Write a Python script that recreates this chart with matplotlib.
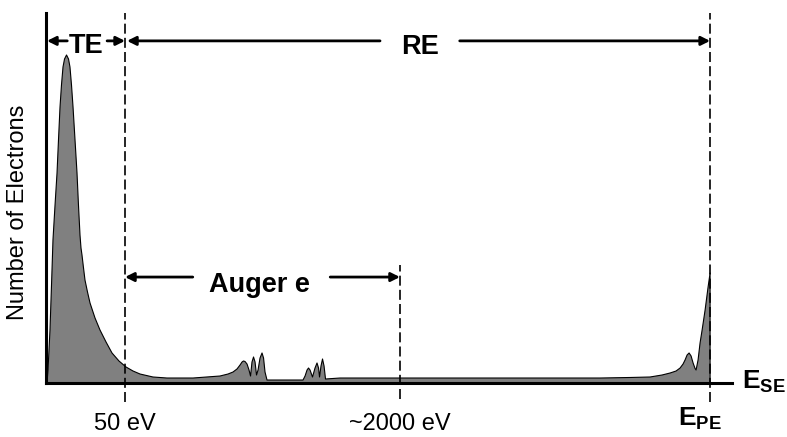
import matplotlib.pyplot as plt

plt.rcParams['font.family'] = ['Liberation Sans', 'DejaVu Sans']
plt.rcParams['mathtext.fontset'] = 'custom'
plt.rcParams['mathtext.rm'] = 'Liberation Sans'
plt.rcParams['mathtext.bf'] = 'Liberation Sans:bold'

# energy in arbitrary units (E_PE = 100), counts relative to the TE peak
# true secondary peak and its low-energy tail
te_energy = [0.15, 0.30, 0.60, 0.83, 1.05, 1.36, 1.66, 1.88, 2.11, 2.33,
             2.56, 2.79, 3.09, 3.39, 3.61, 3.84, 4.07, 4.37, 4.67, 4.89,
             5.12, 5.27, 5.42, 5.65, 5.87, 6.25, 6.63, 7.38, 8.13, 9.04,
             9.94, 10.99, 12.05, 13.10, 14.16, 16.11, 18.22, 22.14]
te_counts = [0.0, 3.96, 16.16, 29.88, 43.60, 54.27, 64.02, 74.09, 84.15, 90.85,
             96.34, 98.78, 100.0, 98.78, 96.34, 90.85, 84.15, 74.09, 64.02, 54.27,
             45.12, 41.16, 39.02, 35.06, 31.40, 27.74, 24.39, 19.82, 16.16, 12.50,
             9.15, 6.71, 4.88, 3.66, 2.74, 1.83, 1.52, 1.52]

# two groups of Auger lines
auger_energy = [26.20, 27.41, 28.16, 28.76, 29.22, 29.52, 29.74, 29.97, 30.27,
                30.57, 30.80, 31.02, 31.25, 31.48, 31.70, 31.93, 32.23, 32.53,
                32.76, 32.98, 33.28, 38.70, 39.01, 39.31, 39.53, 39.76, 40.13,
                40.51, 40.81, 41.04, 41.19, 41.41, 41.64, 41.87, 42.09]
auger_counts = [2.13, 2.74, 3.35, 4.27, 5.49, 6.40, 6.71, 6.55, 5.79,
                3.96, 2.13, 6.40, 7.93, 6.40, 2.44, 3.96, 7.62, 9.15,
                7.62, 3.35, 0.91, 0.91, 2.13, 3.96, 4.57, 3.96, 1.83,
                4.57, 6.10, 4.57, 1.83, 5.18, 7.32, 5.18, 1.22]

# flat background of backscattered electrons
bg_energy = [44.28, 53.31, 83.43]
bg_counts = [1.52, 1.52, 1.52]

# loss peak and elastic peak at E_PE
pe_energy = [87.95, 90.96, 92.77, 93.98, 94.88, 95.48, 95.93, 96.23, 96.54,
             96.84, 97.14, 97.44, 97.74, 97.89, 98.19, 98.49, 98.80, 99.25,
             99.70, 100.0, 100.0]
pe_counts = [1.68, 1.83, 2.44, 3.05, 3.66, 4.57, 5.79, 7.01, 8.54,
             9.15, 8.23, 6.10, 4.42, 3.96, 7.01, 12.20, 16.16, 22.26,
             29.27, 33.54, 0.0]

energy = te_energy + auger_energy + bg_energy + pe_energy
counts = te_counts + auger_counts + bg_counts + pe_counts

# boundaries: 50 eV, ~2000 eV, E_PE
e_50 = 11.9
e_2000 = 53.3
e_pe = 100.0

fig = plt.figure(figsize=(7.87, 4.37), dpi=100)
ax = fig.add_axes([46 / 787, 54 / 437, 686 / 787, 370 / 437])
ax.set_xlim(0, 103.3)
ax.set_ylim(0, 112.8)

ax.fill_between(energy, counts, 0, facecolor='#808080', edgecolor='none')
ax.plot(energy, counts, color='black', lw=0.8)

for s in ['top', 'right']:
    ax.spines[s].set_visible(False)
for s in ['left', 'bottom']:
    ax.spines[s].set_linewidth(2.2)
ax.set_xticks([])
ax.set_yticks([])

dash = (0, (6, 2.5))
ax.vlines([e_50, e_pe], -5.8, 112.8, colors='black', lw=1.2,
          linestyles=[dash], clip_on=False)
ax.vlines(e_2000, -5.0, 36.0, colors='black', lw=1.2,
          linestyles=[dash], clip_on=False)

arrow = dict(arrowstyle='-|>', lw=2, color='black', mutation_scale=13,
             shrinkA=0, shrinkB=0)


def span(x0, x1, y, a, b, label, xt, yt):
    ax.annotate('', xy=(x0, y), xytext=(a, y), arrowprops=arrow,
                annotation_clip=False)
    ax.annotate('', xy=(x1, y), xytext=(b, y), arrowprops=arrow,
                annotation_clip=False)
    ax.text(xt, yt, label, ha='center', va='baseline', fontsize=19.5,
            fontweight='bold')


span(0.15, e_50, 104.3, 3.2, 9.2, 'TE', 6.1, 100.6)
span(e_50 + 0.3, e_pe, 104.3, 50.3, 62.3, 'RE', 56.3, 100.4)
span(e_50, e_2000, 32.3, 22.1, 42.8, 'Auger e', 32.2, 27.7)

ax.text(e_50, -14.3, '50 eV', ha='center', va='baseline', fontsize=17,
        clip_on=False)
ax.text(e_2000, -14.3, '~2000 eV', ha='center', va='baseline', fontsize=17,
        clip_on=False)
ax.text(98.5, -13.1, r'$\mathbf{E_{PE}}$', ha='center', va='baseline',
        fontsize=19, clip_on=False)
ax.text(104.8, -1.8, r'$\mathbf{E_{SE}}$', ha='left', va='baseline',
        fontsize=19, clip_on=False)

fig.text(18 / 787, 1 - 212 / 437, 'Number of Electrons', rotation=90,
         ha='center', va='center', fontsize=17)

fig.savefig('out.png', dpi=100)
